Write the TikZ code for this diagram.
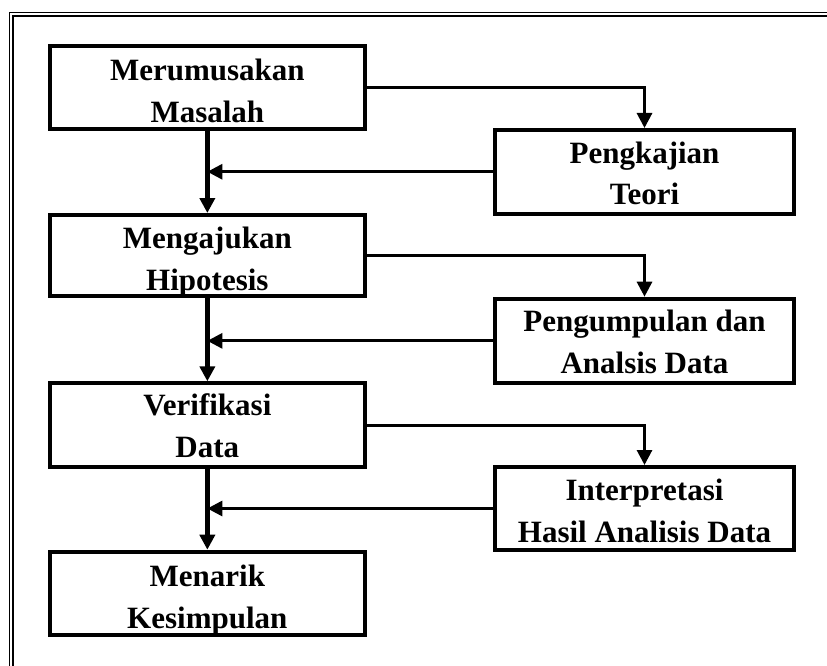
\documentclass[tikz,border=0pt]{standalone}
\usepackage{fontspec}
\setmainfont{Liberation Serif}
\usetikzlibrary{arrows.meta}
\tikzset{
  box/.style={draw, line width=4pt, inner sep=0pt, minimum height=83pt,
    font=\fontsize{31}{42}\selectfont\bfseries, text height=31.5pt, text depth=48.5pt},
  lbox/.style={box, minimum width=314.7pt},
  rbox/.style={box, minimum width=299pt},
  tofs/.style={text height=#1, text depth=80pt-#1},
  spine/.style={line width=5pt, -{Triangle[length=15pt,width=15pt]}},
  side/.style={line width=3pt, -{Triangle[length=15pt,width=15pt]}},
  frame/.style={line width=#1}
}
\newcommand{\twolines}[2]{\begin{tabular}[t]{@{}c@{}}#1\\#2\end{tabular}}
\begin{document}
\begin{tikzpicture}[x=1pt,y=-1pt]
\useasboundingbox (0,0) rectangle (827,666);
% frame
\draw[frame=1.5pt] (9.5,666) -- (9.5,12.5) -- (827,12.5);
\draw[frame=2pt] (12.8,666) -- (12.8,15.8) -- (827,15.8);
% boxes
\node[lbox, minimum height=82.5pt, tofs=33.25pt] (L1) at (207.35,87.75) {\twolines{Merumusakan}{Masalah}};
\node[rbox, minimum height=83.5pt, tofs=31.25pt] (R1) at (644.5,171.75) {\twolines{Pengkajian}{Teori}};
\node[lbox, minimum height=80.5pt, tofs=33pt] (L2) at (207.35,255.25) {\twolines{Mengajukan}{Hipotesis}};
\node[rbox, minimum height=84.3pt, tofs=30.85pt] (R2) at (644.5,340.85) {\twolines{Pengumpulan dan}{Analsis Data}};
\node[lbox, minimum height=83.4pt, tofs=30pt] (L3) at (207.35,425) {\twolines{Verifikasi}{Data}};
\node[rbox, minimum height=83pt, tofs=31.5pt] (R3) at (644.5,508.5) {\twolines{Interpretasi}{Hasil Analisis Data}};
\node[lbox, minimum height=83.3pt, tofs=32.7pt] (L4) at (207.35,593.35) {\twolines{Menarik}{Kesimpulan}};
% spine
\draw[spine] (L1.south) -- (L2.north);
\draw[spine] (L2.south) -- (L3.north);
\draw[spine] (L3.south) -- (L4.north);
% side connectors
\draw[side] (L1.east) -| (R1.north);
\draw[side] (L2.east) -| (R2.north);
\draw[side] (L3.east) -| (R3.north);
\draw[side] (R1.west) -- (R1.west -| L1.south);
\draw[side] (R2.west) -- (R2.west -| L2.south);
\draw[side] (R3.west) -- (R3.west -| L3.south);
\end{tikzpicture}
\end{document}
